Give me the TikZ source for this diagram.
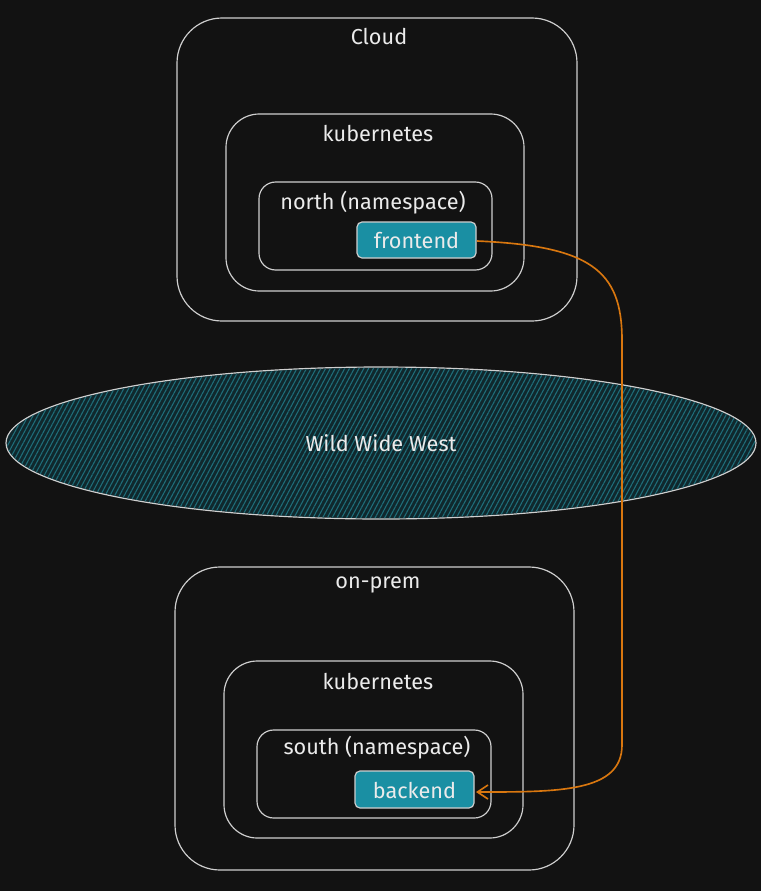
\documentclass[tikz,border=0pt]{standalone}
\usepackage{fontspec}
\setmainfont{Fira Sans}
\usetikzlibrary{arrows.meta,patterns.meta}
\definecolor{bgdark}{HTML}{121212}
\definecolor{linegrey}{HTML}{CFCFCF}
\definecolor{podteal}{HTML}{1A8FA3}
\definecolor{hatchteal}{HTML}{1F6E7A}
\definecolor{fillteal}{HTML}{10282D}
\definecolor{linkorange}{HTML}{D9770F}
\tikzset{
  sketch/.style={
    draw=linegrey,
    line width=1pt,
    line cap=round,
    line join=round
  },
  zone/.style={sketch, rounded corners=1.35cm},
  cluster/.style={sketch, rounded corners=1.0cm},
  namespace/.style={sketch, rounded corners=0.5cm},
  pod/.style={sketch, fill=podteal, rounded corners=0.15cm},
  label/.style={text=white!92!black, font=\fontsize{18.5}{20}\selectfont, inner sep=0pt},
  link/.style={draw=linkorange, line width=1.4pt, -{Straight Barb[length=9pt,width=12pt,line width=1.4pt]}}
}
\begin{document}
\begin{tikzpicture}[x=0.03cm, y=-0.03cm]
  \useasboundingbox (0,0) rectangle (761,891);
  \fill[bgdark] (0,0) rectangle (761,891);

  % 1. Cloud side
  \draw[zone] (177,18) rectangle (577,321);
  \node[label] (cloud) at (379,36) {Cloud};
  \draw[cluster] (226,114) rectangle (524,291);
  \node[label] (k8s-north) at (378,133) {kubernetes};
  \draw[namespace] (259,182) rectangle (492,270);
  \node[label] (ns-north) at (373,203) {north (namespace)};
  \draw[pod] (357,222) rectangle (476,258);
  \node[label] (frontend) at (416.5,240) {frontend};
  \coordinate (frontend-east) at (477,241);

  % 2. The open internet (hatched ellipse)
  \draw[sketch, fill=fillteal] (381,443) ellipse [x radius=375, y radius=76];
  \fill[pattern={Lines[angle=62, distance=3.6pt, line width=0.9pt]}, pattern color=hatchteal]
    (381,443) ellipse [x radius=374, y radius=75];
  \node[label] (www) at (381,443) {Wild Wide West};

  % 3. On-prem side
  \draw[zone] (175,567) rectangle (574,870);
  \node[label] (onprem) at (378,585) {on-prem};
  \draw[cluster] (224,661) rectangle (523,838);
  \node[label] (k8s-south) at (378,681) {kubernetes};
  \draw[namespace] (257,730) rectangle (491,818);
  \node[label] (ns-south) at (377,748) {south (namespace)};
  \draw[pod] (355,771) rectangle (474,808);
  \node[label] (backend) at (414.5,790) {backend};
  \coordinate (backend-east) at (476,792);

  % 4. The connection frontend -> backend
  \draw[link] (frontend-east) .. controls (590,246) and (622,270) .. (622,340)
    -- (622,745) .. controls (622,792) and (560,792) .. (backend-east);

\end{tikzpicture}
\end{document}
